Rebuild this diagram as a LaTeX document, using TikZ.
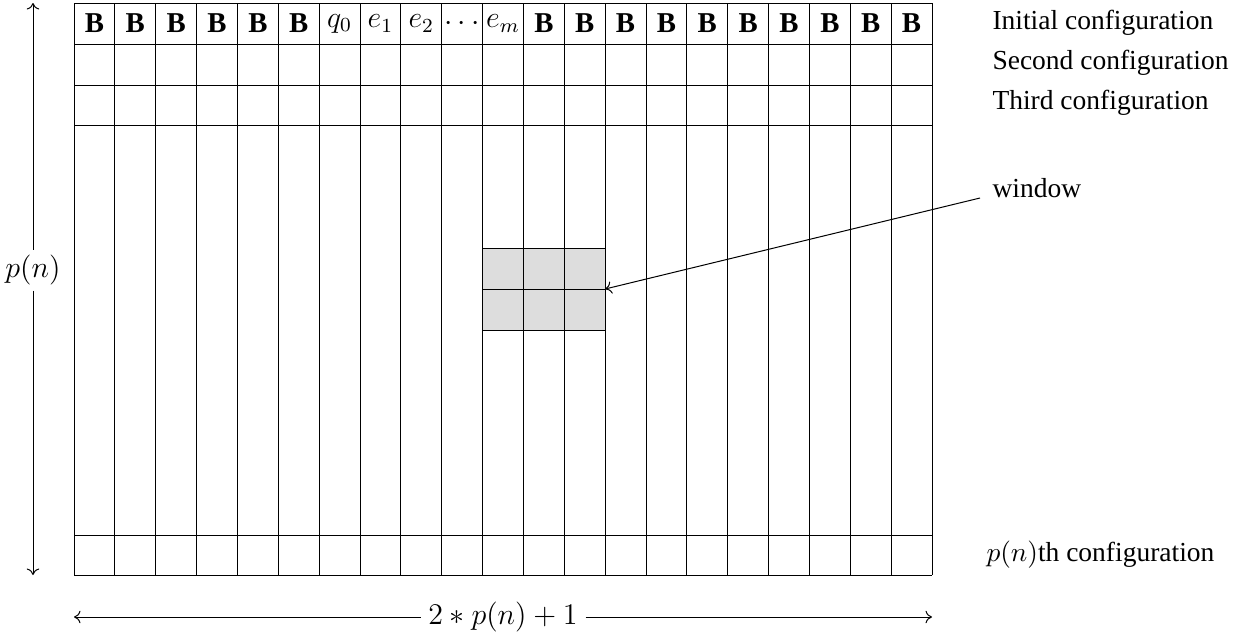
\documentclass[tikz,border=0pt]{standalone}
\usepackage{fontspec}
\setmainfont{Liberation Serif}
\usetikzlibrary{arrows.meta}
\definecolor{winfill}{HTML}{DDDDDD}
\begin{document}
\begin{tikzpicture}[x=0.4pt,y=-0.4pt,
  cell/.style={inner sep=0pt,font=\fontsize{11.5}{13}\selectfont},
  lbl/.style={anchor=west,inner sep=0pt,font=\fontsize{11}{13}\selectfont},
  dim/.style={-{Computer Modern Rightarrow[width=5pt,length=2.6pt]}}]
\useasboundingbox (0,0) rectangle (1238,633);
\def\cw{40.857}
% window fill
\fill[winfill] ({74+10*\cw},248) rectangle ({74+13*\cw},330);
\draw ({74+10*\cw},248) rectangle ({74+13*\cw},330);
\draw ({74+10*\cw},289) -- ({74+13*\cw},289);
% grid
\foreach \y in {3,44,85,125,535,575} \draw (74,\y) -- (932,\y);
\foreach \i in {0,...,21} \draw ({74+\i*\cw},3) -- ({74+\i*\cw},575);
% first row contents
\foreach \t [count=\i from 0] in {\textbf{B},\textbf{B},\textbf{B},\textbf{B},\textbf{B},\textbf{B},$q_0$,$e_1$,$e_2$,$\cdots$,$e_m$,\textbf{B},\textbf{B},\textbf{B},\textbf{B},\textbf{B},\textbf{B},\textbf{B},\textbf{B},\textbf{B},\textbf{B}}
  \node[cell] (c\i) at ({74+(\i+0.5)*\cw},23.5) {\t};
% labels
\node[lbl] (l1) at (992,23) {Initial configuration};
\node[lbl] (l2) at (992,63) {Second configuration};
\node[lbl] (l3) at (992,103) {Third configuration};
\node[lbl] (lw) at (992,188) {window};
\node[lbl] (lp) at (986,555) {$p(n)$th configuration};
\coordinate (wr) at ({74+13*\cw},289);
\draw[dim] (lw.west) ++(-12,10) coordinate (ws) -- (wr);
% vertical dimension
\node[cell,fill=white,inner sep=2pt] (pn) at (33,270) {$p(n)$};
\coordinate (vt) at (33,3);
\coordinate (vb) at (33,575);
\draw[dim] (pn) -- (vt);
\draw[dim] (pn) -- (vb);
% horizontal dimension
\node[cell,fill=white,inner sep=3pt] (wn) at (503,617) {$2*p(n)+1$};
\coordinate (hl) at (74,617);
\coordinate (hr) at (932,617);
\draw[dim] (wn) -- (hl);
\draw[dim] (wn) -- (hr);
\end{tikzpicture}
\end{document}
